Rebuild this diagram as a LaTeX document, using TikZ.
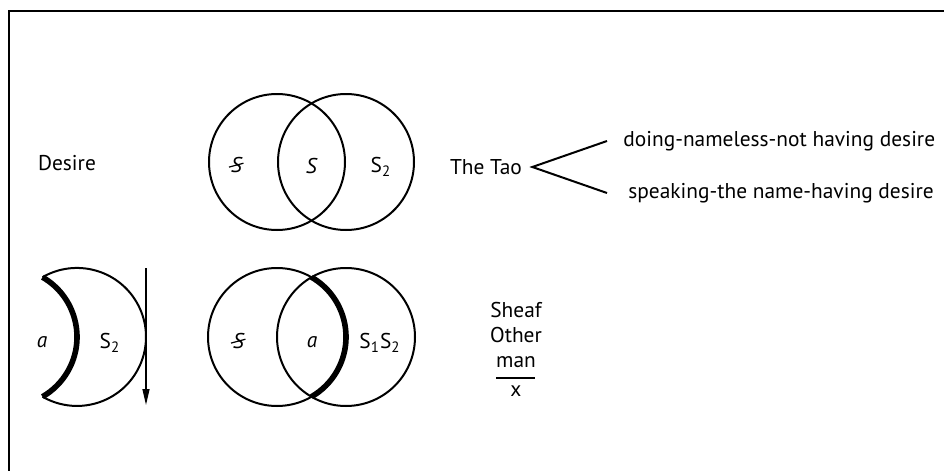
\documentclass[tikz,border=0pt]{standalone}
\usepackage{fontspec}
\setmainfont{PT Sans}
\usetikzlibrary{arrows.meta,positioning}
\tikzset{
  ring/.style={draw, line width=1pt},
  cutarc/.style={line width=2.8pt},
  lbl/.style={font=\fontsize{10.7}{12.3}\selectfont, inner sep=2pt},
  forkline/.style={line width=1pt},
  fall/.style={-{Triangle[length=8pt,width=3.5pt]}, line width=0.7pt}
}
\newcommand{\barredS}{\textit{S}\llap{\raisebox{0.45ex}{\rotatebox{15}{\rule{0.7em}{0.6pt}}}\kern-0.03em}}

\begin{document}
\begin{tikzpicture}[x=0.5pt, y=-0.5pt]
\useasboundingbox (0,0) rectangle (944,471);
% frame
\draw[line width=1.1pt] (9,471) -- (9,11) -- (944,11);

% top row
\node[lbl] (desire) at (67,163) {Desire};
\draw[ring] (277,162) circle[radius=68];
\draw[ring] (346,162) circle[radius=68];
\node[lbl] (subj) at (237,165) {\barredS};
\node[lbl] (core) at (312,166) {\textit{S}};
\node[lbl] (other) at (381,167) {S\textsubscript{2}};
\node[lbl] (tao) at (486,167) {The Tao};
\node[lbl, anchor=west] (doing) at (619,141) {doing-nameless-not having desire};
\node[lbl, anchor=west] (speaking) at (624,193) {speaking-the name-having desire};
\coordinate (fork) at ([xshift=3pt]tao.east);
\coordinate (upend) at ([xshift=-6pt]doing.west);
\coordinate (downend) at ([xshift=-8.5pt]speaking.west);
\draw[forkline] (upend) -- (fork) -- (downend);

% bottom row
\draw[ring] (42.5,277.2) arc[start angle=240, end angle=480, radius=69];
\draw[cutarc] (42.5,277.2) arc[start angle=-60, end angle=60, radius=69];
\node[lbl] (lack) at (42,342) {\textit{a}};
\node[lbl] (rest) at (110,343) {S\textsubscript{2}};
\coordinate (droptop) at (146,268);
\coordinate (dropend) at (146,405);
\draw[fall] (droptop) -- (dropend);

\draw[ring] (277,337) circle[radius=69];
\draw[ring] (346,337) circle[radius=69];
\draw[cutarc] (311.5,277.2) arc[start angle=-60, end angle=60, radius=69];
\node[lbl] (subj2) at (239,341) {\barredS};
\node[lbl] (obj) at (312,342) {\textit{a}};
\node[lbl] (pair) at (380,343) {S\textsubscript{1}S\textsubscript{2}};

\node[lbl, align=center] (sheaf) at (516,335) {Sheaf\\Other\\man};
\coordinate (barl) at (496,378);
\coordinate (barr) at (535,378);
\draw[line width=0.9pt] (barl) -- (barr);
\node[lbl] (unk) at (516,391) {x};
\end{tikzpicture}
\end{document}
